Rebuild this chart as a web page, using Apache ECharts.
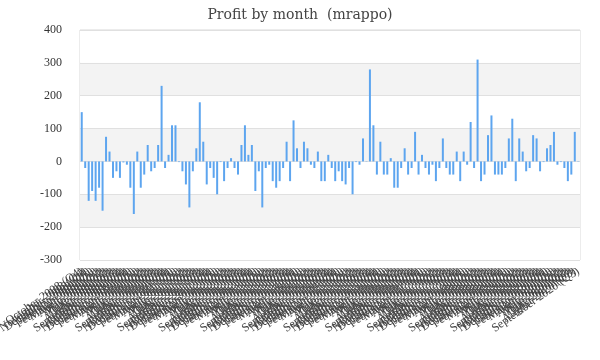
<!DOCTYPE html>
<html>
<head>
<meta charset="utf-8">
<script src="https://cdn.jsdelivr.net/npm/echarts@6/dist/echarts.min.js"></script>
<style>html,body{margin:0;padding:0;background:#fff;}#c{width:600px;height:360px;}</style>
</head>
<body>
<div id="c"></div>
<script>
var monthNames = ["January","February","March","April","May","June","July","August","September","October","November","December"];
var startMonthIndex = 9;   // October
var startYear = 2008;
var profit = [
  150,-20,-120,-90,-120,-80,-150,75,30,-50,-30,-50,
  -3,-10,-80,-160,30,-80,-40,50,-30,-20,50,230,
  -20,20,110,110,-2,-30,-70,-140,-30,40,180,60,
  -70,-20,-50,-100,-2,-60,-20,10,-20,-40,50,110,
  20,50,-90,-30,-140,-20,-10,-60,-80,-60,-20,60,
  -60,125,40,-20,60,40,-10,-20,30,-60,-60,20,
  -20,-60,-30,-60,-70,-20,-100,-2,-10,70,1,280,
  110,-40,60,-40,-40,10,-80,-80,-20,40,-40,-20,
  90,-40,20,-20,-40,-10,-60,-20,70,-20,-40,-40,
  30,-60,30,-10,120,-20,310,-60,-40,80,140,-40,
  -40,-40,-20,70,130,-60,70,30,-30,-20,80,70,
  -30,-2,40,50,90,-10,-2,-20,-60,-40,90,-1
];
var yTicks = [-300,-200,-100,0,100,200,300,400];

var categories = [];
for (var i = 0; i < profit.length; i++) {
  var m = (startMonthIndex + i) % 12;
  var y = startYear + Math.floor((startMonthIndex + i) / 12);
  categories.push(monthNames[m] + " " + y + " (Q" + (Math.floor(m / 3) + 1) + ")");
}

var chart = echarts.init(document.getElementById('c'), null, {renderer: 'canvas'});
chart.setOption({
  animation: false,
  title: {
    text: 'Profit by month  (mrappo)',
    left: 'center',
    top: 3,
    textStyle: {fontFamily: 'DejaVu Serif', fontSize: 14, fontWeight: 'normal', color: '#444'}
  },
  grid: {left: 80, right: 20, top: 30, bottom: 100, containLabel: false, outerBoundsMode: 'none', show: true, borderColor: '#d9d9d9', borderWidth: 1, backgroundColor: 'transparent'},
  xAxis: {
    type: 'category',
    data: categories,
    axisLine: {show: false, onZero: false},
    axisTick: {show: false},
    splitLine: {show: false},
    axisLabel: {interval: 0, rotate: 35, fontFamily: 'Liberation Serif', fontSize: 12, color: '#444', margin: 10}
  },
  yAxis: {
    type: 'value',
    min: yTicks[0],
    max: yTicks[yTicks.length - 1],
    interval: 100,
    axisLine: {show: false},
    axisTick: {show: false},
    axisLabel: {fontFamily: 'Liberation Serif', fontSize: 12, color: '#333', margin: 18},
    splitLine: {show: true, lineStyle: {color: '#e0e0e0', width: 1}},
    splitArea: {show: true, areaStyle: {color: ['#ffffff', '#f3f3f3']}}
  },
  series: [{
    type: 'bar',
    data: profit,
    barWidth: 2,
    itemStyle: {color: '#5da5ef'}
  }]
});
</script>
</body>
</html>
